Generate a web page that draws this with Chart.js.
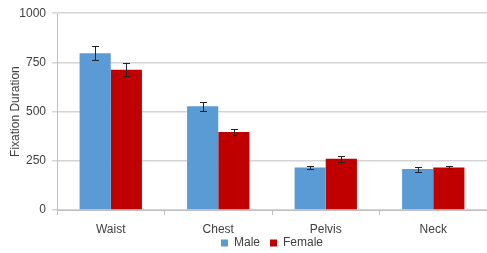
<!DOCTYPE html>
<html><head><meta charset="utf-8">
<script src="https://cdn.jsdelivr.net/npm/chart.js@4/dist/chart.umd.min.js"></script>
<style>html,body{margin:0;padding:0;background:#fff}#wrap{width:487px;height:253px}</style>
</head><body><div id="wrap"><canvas id="c"></canvas></div>
<script>
const categories = ["Waist", "Chest", "Pelvis", "Neck"];
const maleValues = [797, 527, 216, 208];
const femaleValues = [713, 396, 260, 216];
const maleErrors = [34, 24, 9, 13];
const femaleErrors = [33, 15, 14, 7];
const yTicks = [0, 250, 500, 750, 1000];

const errorBarPlugin = {
  id: 'errorBars',
  afterDatasetsDraw(chart) {
    const ctx = chart.ctx;
    const y = chart.scales.y;
    chart.data.datasets.forEach((ds, di) => {
      const meta = chart.getDatasetMeta(di);
      meta.data.forEach((bar, i) => {
        const v = ds.data[i], e = ds.errors[i];
        const yt = Math.round(y.getPixelForValue(v + e)), yb = Math.round(y.getPixelForValue(v - e));
        const x = Math.round(bar.x);
        ctx.save();
        ctx.strokeStyle = '#222';
        ctx.lineWidth = 1;
        ctx.beginPath();
        ctx.moveTo(x + 0.5, yt); ctx.lineTo(x + 0.5, yb);
        ctx.moveTo(x - 3, yt + 0.5); ctx.lineTo(x + 4, yt + 0.5);
        ctx.moveTo(x - 3, yb + 0.5); ctx.lineTo(x + 4, yb + 0.5);
        ctx.stroke();
        ctx.restore();
      });
    });
  }
};

const legendShiftPlugin = {
  id: 'legendShift',
  beforeLayout(chart) {
    const lg = chart.legend;
    if (lg && !lg._patched) {
      const f = lg.fit;
      lg.fit = function () { f.call(this); this.height = 15; };
      lg._patched = true;
    }
  },
  afterLayout(chart) {
    const lg = chart.legend, ca = chart.chartArea;
    if (lg) {
      lg.left = ca.left; lg.right = ca.right;
      lg.top = 227; lg.bottom = 253; lg.height = 26;
    }
  }
};

Chart.defaults.font.family = "'Liberation Sans', Arial, sans-serif";
Chart.defaults.font.size = 12;
Chart.defaults.color = '#404040';

new Chart(document.getElementById('c'), {
  type: 'bar',
  data: {
    labels: categories,
    datasets: [
      { label: 'Male', data: maleValues, errors: maleErrors, backgroundColor: '#5B9BD5', borderColor: '#5B9BD5', categoryPercentage: 0.58, barPercentage: 1.0 },
      { label: 'Female', data: femaleValues, errors: femaleErrors, backgroundColor: '#C00000', borderColor: '#C00000', categoryPercentage: 0.58, barPercentage: 1.0 }
    ]
  },
  options: {
    responsive: true,
    maintainAspectRatio: false,
    animation: false,
    layout: { padding: { top: 8, right: 0, left: 8, bottom: 2 } },
    plugins: {
      tooltip: { enabled: false },
      legend: {
        position: 'bottom',
        labels: { boxWidth: 7, boxHeight: 7, padding: 10, font: { size: 12 } }
      }
    },
    scales: {
      x: {
        grid: { display: true, drawOnChartArea: false, offset: true, tickLength: 5, color: '#bfbfbf' },
        border: { color: '#bfbfbf', width: 1 },
        ticks: { padding: 7, autoSkip: false, maxRotation: 0 },
        afterFit(s) { s.height = 26; }
      },
      y: {
        min: 0, max: 1000,
        afterBuildTicks(s) { s.ticks = yTicks.map(v => ({ value: v })); },
        grid: { color: '#d4d4d4', lineWidth: 1.5, drawTicks: true, tickLength: 5 },
        border: { color: '#bfbfbf', width: 1 },
        ticks: { padding: 6, callback: (v) => String(v) },
        title: { display: true, text: 'Fixation Duration', padding: 0, font: { size: 12 } },
        afterFit(s) { s.width = 49; }
      }
    }
  },
  plugins: [errorBarPlugin, legendShiftPlugin]
});
</script>
</body></html>
